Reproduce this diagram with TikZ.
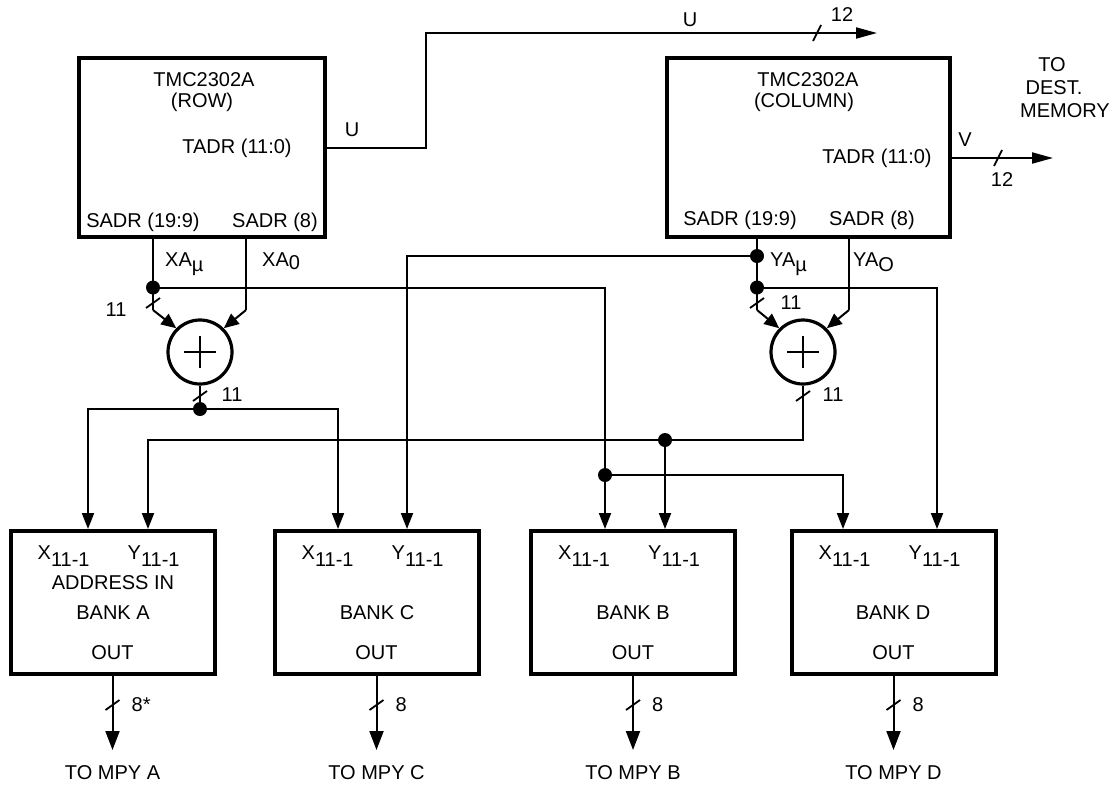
\documentclass[tikz,border=0pt]{standalone}
\usepackage{fontspec}
\setmainfont{Liberation Sans}
\usetikzlibrary{arrows.meta}
\newcommand\fs{\fontsize{20}{23}\selectfont}
\newcommand\lsub[2][5pt]{\raisebox{-#1}{#2}}
\newcommand\vslash[1]{\draw[slashmark] ([shift={(-7,5)}]#1) -- ([shift={(7,-5)}]#1);}
\newcommand\hslash[1]{\draw[slashmark] ([shift={(-4,8)}]#1) -- ([shift={(4,-8)}]#1);}
\begin{document}
\begin{tikzpicture}[x=1pt,y=-1pt,
  wire/.style={line width=2pt},
  box/.style={draw,line width=4pt,inner sep=0pt,rectangle,minimum height=143pt,minimum width=204pt},
  chip/.style={draw,line width=4pt,inner sep=0pt,rectangle,minimum height=179pt},
  lbl/.style={inner sep=0pt,font=\fs},
  inarr/.style={wire,-{Triangle[length=16pt,width=12pt]}},
  outarr/.style={wire,-{Triangle[length=19pt,width=14pt]}},
  longarr/.style={wire,-{Triangle[length=21pt,width=11pt]}},
  addarr/.style={wire,-{Triangle[length=15pt,width=13pt]}},
  dotnode/.style={circle,fill,inner sep=0pt,minimum size=14pt},
  adder/.style={circle,draw,line width=3.2pt,minimum size=64pt,inner sep=0pt},
  slashmark/.style={line width=1.8pt},
  plus/.style={line width=1.6pt}
]
\useasboundingbox[fill=white] (0,0) rectangle (1115,785);

% ---------- chips ----------
\node[chip,minimum width=246pt] (row) at (202,147.5) {};
\node[chip,minimum width=283pt] (col) at (808.5,147.5) {};

\node[lbl] (rowT1) at (204,80) {TMC2302A};
\node[lbl] (rowT2) at (202,102) {(ROW)};
\node[lbl] (rowT3) at (237,148) {TADR (11:0)};
\node[lbl] (rowT4) at (143,222) {SADR (19:9)};
\node[lbl] (rowT5) at (275,222) {SADR (8)};

\node[lbl] (colT1) at (808,80) {TMC2302A};
\node[lbl] (colT2) at (804,102) {(COLUMN)};
\node[lbl] (colT3) at (877,158) {TADR (11:0)};
\node[lbl] (colT4) at (740,220) {SADR (19:9)};
\node[lbl] (colT5) at (872,220) {SADR (8)};

% ---------- banks ----------
\node[box] (bankA) at (112.5,602.5) {};
\node[box] (bankC) at (376.5,602.5) {};
\node[box] (bankB) at (633,602.5) {};
\node[box] (bankD) at (893.5,602.5) {};

\foreach \b/\c in {bankA/112.5,bankC/376.5,bankB/633,bankD/893.5}{
  \node[lbl,anchor=base west] (\b X) at (\c-75,559) {X\lsub[7pt]{11-1}};
  \node[lbl,anchor=base west] (\b Y) at (\c+15,559) {Y\lsub[7pt]{11-1}};
  \node[lbl] (\b O) at (\c,653) {OUT};
}
\node[lbl] (addrIn) at (113,583) {ADDRESS IN};
\node[lbl] (nmA) at (113,613) {BANK A};
\node[lbl] (nmC) at (377,613) {BANK C};
\node[lbl] (nmB) at (633,613) {BANK B};
\node[lbl] (nmD) at (893,613) {BANK D};

% ---------- adders ----------
\node[adder] (addL) at (200,352) {};
\node[adder] (addR) at (803,352) {};
\foreach \a in {addL,addR}{
  \draw[plus] ([xshift=-16pt]\a.center) -- ([xshift=16pt]\a.center);
  \draw[plus] ([yshift=-16pt]\a.center) -- ([yshift=16pt]\a.center);
}

% ---------- coordinates ----------
\coordinate (xmuT) at (153,310);
\coordinate (xa0T) at (246,310);
\coordinate (ymuT) at (757,310);
\coordinate (ya0T) at (849,310);
\coordinate (dXL) at (153,287.5);
\coordinate (dAddL) at (200,409);
\coordinate (dYmu1) at (757,256);
\coordinate (dYmu2) at (757,287.5);
\coordinate (dB1) at (665,440);
\coordinate (dB2) at (605,475);
\coordinate (aX) at (88,0);
\coordinate (aY) at (148,440);
\coordinate (cX) at (338,0);
\coordinate (cY) at (407,0);
\coordinate (dX) at (843,0);
\coordinate (dY) at (937,0);
\coordinate (uUp) at (426,33);
\coordinate (uEnd) at (877,33);
\coordinate (vEnd) at (1053,158);
\coordinate (tipY) at (0,750);
\coordinate (labY) at (0,773);
\coordinate (slY) at (0,705);

% ---------- row side wiring ----------
\draw[wire] (row.south -| xmuT) -- (xmuT);
\draw[addarr] (xmuT) -- (addL.135);
\draw[wire] (row.south -| xa0T) -- (xa0T);
\draw[addarr] (xa0T) -- (addL.45);
\draw[inarr] (dXL) -| (bankB.north -| dB2);
\draw[inarr] (dB2) -| (bankD.north -| dX);
\draw[wire] (addL.south) -- (dAddL);
\draw[inarr] (dAddL) -| (bankA.north -| aX);
\draw[inarr] (dAddL) -| (bankC.north -| cX);

% ---------- column side wiring ----------
\draw[wire] (col.south -| ymuT) -- (ymuT);
\draw[addarr] (ymuT) -- (addR.135);
\draw[wire] (col.south -| ya0T) -- (ya0T);
\draw[addarr] (ya0T) -- (addR.45);
\draw[inarr] (dYmu1) -| (bankC.north -| cY);
\draw[inarr] (dYmu2) -| (bankD.north -| dY);
\draw[inarr] (addR.south) |- (aY) -- (bankA.north -| aY);
\draw[inarr] (dB1) -- (bankB.north -| dB1);

% ---------- outputs U / V ----------
\draw[longarr] (row.east) -| (uUp) -- (uEnd);
\draw[longarr] (col.east |- vEnd) -- (vEnd);

% ---------- dots ----------
\foreach \d in {dXL,dAddL,dYmu1,dYmu2,dB1,dB2}{
  \node[dotnode] at (\d) {};
}

% ---------- bus slashes ----------
\coordinate (sL) at (153,303);
\coordinate (sLo) at (200,396);
\coordinate (sR) at (757,303);
\coordinate (sRo) at (803,396);
\coordinate (sU) at (817,33);
\coordinate (sV) at (998,158);
\vslash{sL}
\vslash{sLo}
\vslash{sR}
\vslash{sRo}
\hslash{sU}
\hslash{sV}

% ---------- bank outputs ----------
\foreach \b/\t/\n in {bankA/A/8*,bankC/C/8,bankB/B/8,bankD/D/8}{
  \draw[outarr] (\b.south) -- (\b.south |- tipY);
  \coordinate (\b s) at (\b.south |- slY);
  \vslash{\b s}
  \node[lbl,anchor=west] (\b n) at ([xshift=19pt]\b s) {\n};
  \node[lbl] (\b m) at (\b.south |- labY) {TO MPY \t};
}

% ---------- wire labels ----------
\node[lbl,anchor=base west] (lXmu) at (165,266) {XA\lsub{\textmu}};
\node[lbl,anchor=base west] (lXa0) at (262,266) {XA\lsub[3pt]{0}};
\node[lbl,anchor=base west] (lYmu) at (770,266) {YA\lsub{\textmu}};
\node[lbl,anchor=base west] (lYa0) at (853,266) {YA\lsub{O}};
\node[lbl] (l11a) at (116,310) {11};
\node[lbl] (l11b) at (232,395) {11};
\node[lbl] (l11c) at (791,303) {11};
\node[lbl] (l11d) at (833,395) {11};
\node[lbl] (lU1) at (352,130) {U};
\node[lbl] (lU2) at (690,20) {U};
\node[lbl] (l12a) at (842,15) {12};
\node[lbl] (lV) at (965,140) {V};
\node[lbl] (l12b) at (1002,180) {12};
\node[lbl] (to1) at (1052,65) {TO};
\node[lbl] (to2) at (1054,88) {DEST.};
\node[lbl] (to3) at (1065,111) {MEMORY};
\end{tikzpicture}
\end{document}
